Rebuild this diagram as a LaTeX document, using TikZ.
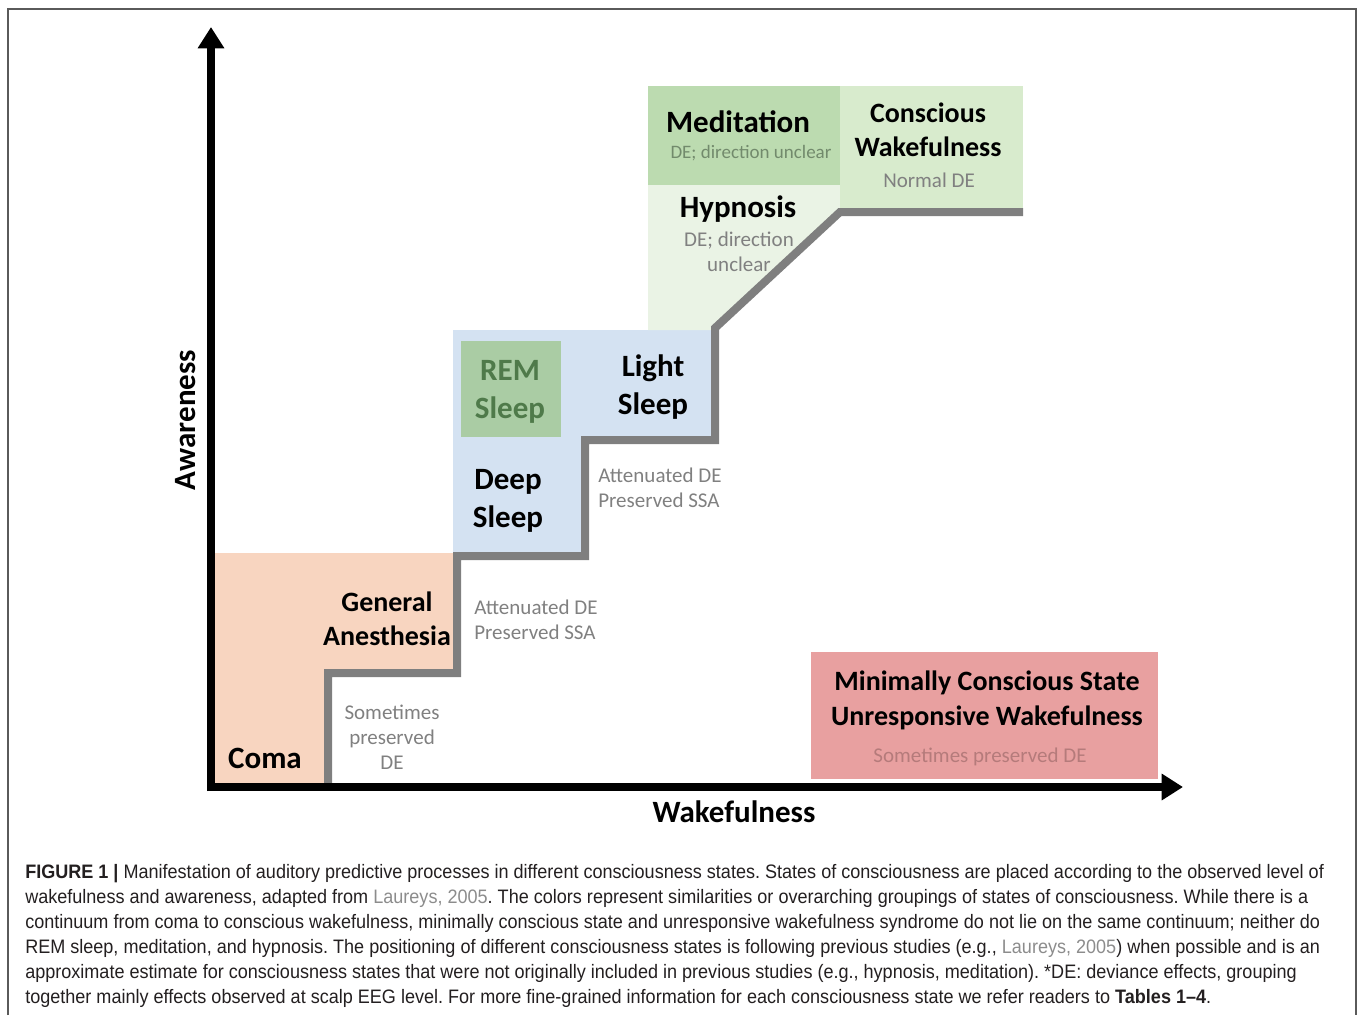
\documentclass[tikz,border=0pt]{standalone}
\usepackage{fontspec}
\setmainfont{Carlito}
\newfontfamily\capfont[FakeStretch=0.927]{Liberation Sans}
\usetikzlibrary{arrows.meta}
\definecolor{peachC}{HTML}{F8D5C0}
\definecolor{blueC}{HTML}{D4E2F2}
\definecolor{remC}{HTML}{AACCA4}
\definecolor{remT}{HTML}{4F7A4A}
\definecolor{medC}{HTML}{BCDBB0}
\definecolor{cwC}{HTML}{D8EBCD}
\definecolor{hypC}{HTML}{EAF3E5}
\definecolor{mcsC}{HTML}{E8A0A0}
\definecolor{mcsT}{HTML}{B57B7B}
\definecolor{noteC}{HTML}{808080}
\definecolor{medT}{HTML}{728A6C}
\definecolor{stepC}{HTML}{7F7F7F}
\definecolor{frameC}{HTML}{5A5A5A}
\definecolor{capT}{HTML}{231F20}
\definecolor{refC}{HTML}{8C8C8C}
\begin{document}
\begin{tikzpicture}[x=0.75pt,y=-0.75pt,
  big/.style={inner sep=0pt, align=center, font=\fontsize{23.25}{28.5}\selectfont\bfseries},
  mid/.style={inner sep=0pt, align=center, font=\fontsize{21}{25.5}\selectfont\bfseries},
  note/.style={inner sep=0pt, align=center, text=noteC, font=\fontsize{15.75}{18.75}\selectfont},
  capline/.style={anchor=base west, inner sep=0pt, text=capT, font=\capfont\fontsize{14.6}{17}\selectfont\frenchspacing},
  axisline/.style={line width=6pt, -{Triangle[length=16pt,width=19pt]}},
  stepline/.style={line width=6pt, stepC, line join=miter}]
\useasboundingbox (0,0) rectangle (1358,1015);
% frame
\draw[frameC, line width=1.5pt] (8,1015) -- (8,9) -- (1356,9) -- (1356,1015);
% regions
\fill[peachC] (215,553) -- (457,553) -- (457,673) -- (328,673) -- (328,783) -- (215,783) -- cycle;
\fill[blueC] (453,330) -- (715,330) -- (715,440) -- (585,440) -- (585,556) -- (453,556) -- cycle;
\fill[hypC] (648,185) -- (840,185) -- (840,212) -- (715,330) -- (648,330) -- cycle;
\fill[medC] (648,86) rectangle (840,185);
\fill[cwC] (840,86) rectangle (1023,212);
\fill[remC] (461,341) rectangle (561,437);
\fill[mcsC] (811,652) rectangle (1158,779);
% staircase
\draw[stepline] (328,787) -- (328,673) -- (457,673) -- (457,556) -- (585,556) -- (585,440) -- (715,440) -- (715,328) -- (840,212) -- (1023,212);
% axes
\coordinate (O) at (211,787);
\coordinate (ytip) at (211,27);
\coordinate (xtip) at (1183,787);
\coordinate (ystart) at (211,791);
\coordinate (xstart) at (207,787);
\draw[axisline] (ystart) -- (ytip);
\draw[axisline] (xstart) -- (xtip);
% labels
\node[big] (coma) at (265,758) {Coma};
\node[mid] (ga) at (387,619) {General\\Anesthesia};
\node[note] (sp1) at (392,737) {Sometimes\\preserved\\DE};
\node[note, align=left, anchor=west] (att1) at (474,620) {Attenuated DE\\Preserved SSA};
\node[big] (deep) at (508,501) {Deep\\Sleep};
\node[big, text=remT] (rem) at (510,392) {REM\\Sleep};
\node[big] (light) at (653,387) {Light\\Sleep};
\node[note, align=left, anchor=west] (att2) at (598,488) {Attenuated DE\\Preserved SSA};
\node[big] (med) at (738,122) {Meditation};
\node[note, text=medT, font=\fontsize{14.25}{17}\selectfont] (medde) at (751,153) {DE; direction unclear};
\node[big] (hyp) at (738,209) {Hypnosis};
\node[note] (hypde) at (739,252) {DE; direction\\unclear};
\node[mid] (cw) at (928,130) {Conscious\\Wakefulness};
\node[note] (cwde) at (929,180) {Normal DE};
\node[mid, font=\fontsize{21}{26.25}\selectfont\bfseries] (mcs) at (987,700) {Minimally Conscious State\\Unresponsive Wakefulness};
\node[note, text=mcsT] (mcsde) at (980,757) {Sometimes preserved DE};
\node[big] (xlab) at (734,812) {Wakefulness};
\node[big, rotate=90] (ylab) at (186,420) {Awareness};
% caption
\node[capline] (c1) at (25,878) {\textbf{FIGURE 1 |} Manifestation of auditory predictive processes in different consciousness states. States of consciousness are placed according to the observed level of};
\node[capline] (c2) at (25,903) {wakefulness and awareness, adapted from \textcolor{refC}{Laureys, 2005}. The colors represent similarities or overarching groupings of states of consciousness. While there is a};
\node[capline] (c3) at (25,928) {continuum from coma to conscious wakefulness, minimally conscious state and unresponsive wakefulness syndrome do not lie on the same continuum; neither do};
\node[capline] (c4) at (25,953) {REM sleep, meditation, and hypnosis. The positioning of different consciousness states is following previous studies (e.g., \textcolor{refC}{Laureys, 2005}) when possible and is an};
\node[capline] (c5) at (25,978) {approximate estimate for consciousness states that were not originally included in previous studies (e.g., hypnosis, meditation). *DE: deviance effects, grouping};
\node[capline] (c6) at (25,1003) {together mainly effects observed at scalp EEG level. For more fine-grained information for each consciousness state we refer readers to \textbf{Tables 1–4}.};
\end{tikzpicture}
\end{document}
